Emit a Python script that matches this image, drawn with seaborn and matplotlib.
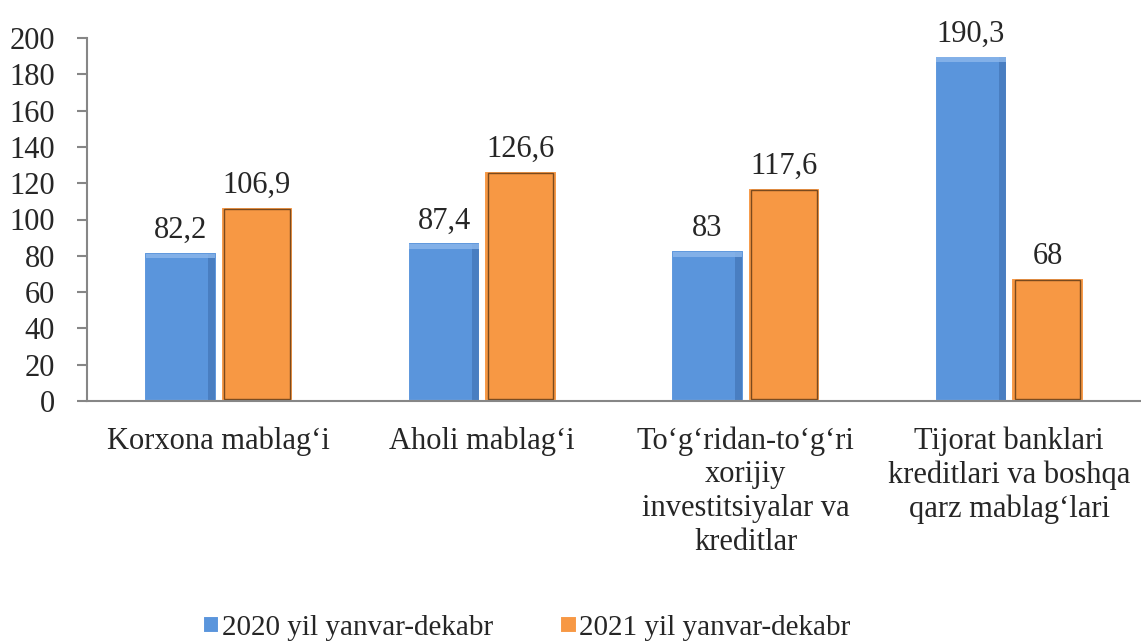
import matplotlib
matplotlib.use("Agg")
import matplotlib.pyplot as plt
import seaborn as sns
import pandas as pd
from matplotlib.patches import Rectangle

categories = [
    "Korxona mablag\u2018i",
    "Aholi mablag\u2018i",
    "To\u2018g\u2018ridan-to\u2018g\u2018ri\nxorijiy\ninvestitsiyalar va\nkreditlar",
    "Tijorat banklari\nkreditlari va boshqa\nqarz mablag\u2018lari",
]
series = ["2020 yil yanvar-dekabr", "2021 yil yanvar-dekabr"]
values_2020 = [82.2, 87.4, 83, 190.3]
values_2021 = [106.9, 126.6, 117.6, 68]
labels_2020 = ["82,2", "87,4", "83", "190,3"]
labels_2021 = ["106,9", "126,6", "117,6", "68"]
yticks = [0, 20, 40, 60, 80, 100, 120, 140, 160, 180, 200]

df = pd.DataFrame({
    "category": categories * 2,
    "series": [series[0]] * 4 + [series[1]] * 4,
    "value": values_2020 + values_2021,
    "label": labels_2020 + labels_2021,
})

sns.set_style("white")
plt.rcParams["font.family"] = ["Liberation Serif", "DejaVu Serif"]
plt.rcParams["font.size"] = 22
FS = 22

fig = plt.figure(figsize=(11.41, 6.44), dpi=100)
ax = fig.add_axes([87 / 1141, (644 - 401) / 644, 1 - 87 / 1141, (401 - 38) / 644])

palette = {series[0]: "#5A95DC", series[1]: "#F79844"}
sns.barplot(data=df, x="category", y="value", hue="series", palette=palette,
            width=0.58, gap=0.05, order=categories, hue_order=series,
            edgecolor="white", linewidth=1.5, saturation=1, ax=ax)

# data labels + simple bevel look
for container, labs, s in zip(ax.containers, [labels_2020, labels_2021], series):
    ax.bar_label(container, labels=labs, padding=5, fontsize=FS)
    for p in container.patches:
        x, y = p.get_x(), p.get_y()
        w, h = p.get_width(), p.get_height()
        if s == series[1]:
            ax.add_patch(Rectangle((x + w * 0.05, y + 1.2), w * 0.9, h - 2.4,
                                   fill=False, edgecolor="#7A4A1E", linewidth=1.0))
        else:
            ax.add_patch(Rectangle((x + w * 0.88, y + 0.5), w * 0.1, h - 1.5,
                                   facecolor="#3F70B0", edgecolor="none", alpha=0.6))
            ax.add_patch(Rectangle((x + w * 0.02, y + h - 3.5), w * 0.96, 2.5,
                                   facecolor="#8DB8EC", edgecolor="none", alpha=0.8))

ax.set_xlim(-0.5, 3.5)
ax.set_ylim(0, 200)
ax.set_yticks(yticks)
ax.set_yticklabels([str(t) for t in yticks], fontsize=FS)
ax.set_xlabel("")
ax.set_ylabel("")

# category labels centered, ticks at group boundaries
ax.set_xticks(range(4))
ax.set_xticklabels(categories, fontsize=FS, linespacing=1.22, va="top")
ax.tick_params(axis="x", which="major", length=0, pad=18)
ax.set_xticks([-0.5, 0.5, 1.5, 2.5, 3.5], minor=True)
ax.tick_params(axis="x", which="minor", length=8, color="#868686", width=1.5, direction="out")
ax.tick_params(axis="y", length=7, color="#868686", width=1.5, direction="out", pad=16, left=True)

for side in ["top", "right"]:
    ax.spines[side].set_visible(False)
for side in ["left", "bottom"]:
    ax.spines[side].set_color("#868686")
    ax.spines[side].set_linewidth(1.5)

handles, lbls = ax.get_legend_handles_labels()
ax.get_legend().remove()
fig.legend(handles, lbls, loc="center", bbox_to_anchor=(527 / 1141, 1 - 628 / 644),
           ncol=2, frameon=False, fontsize=21, handlelength=0.55, handleheight=0.55,
           handletextpad=0.1, columnspacing=2.3)

fig.savefig("out.png", dpi=100)
